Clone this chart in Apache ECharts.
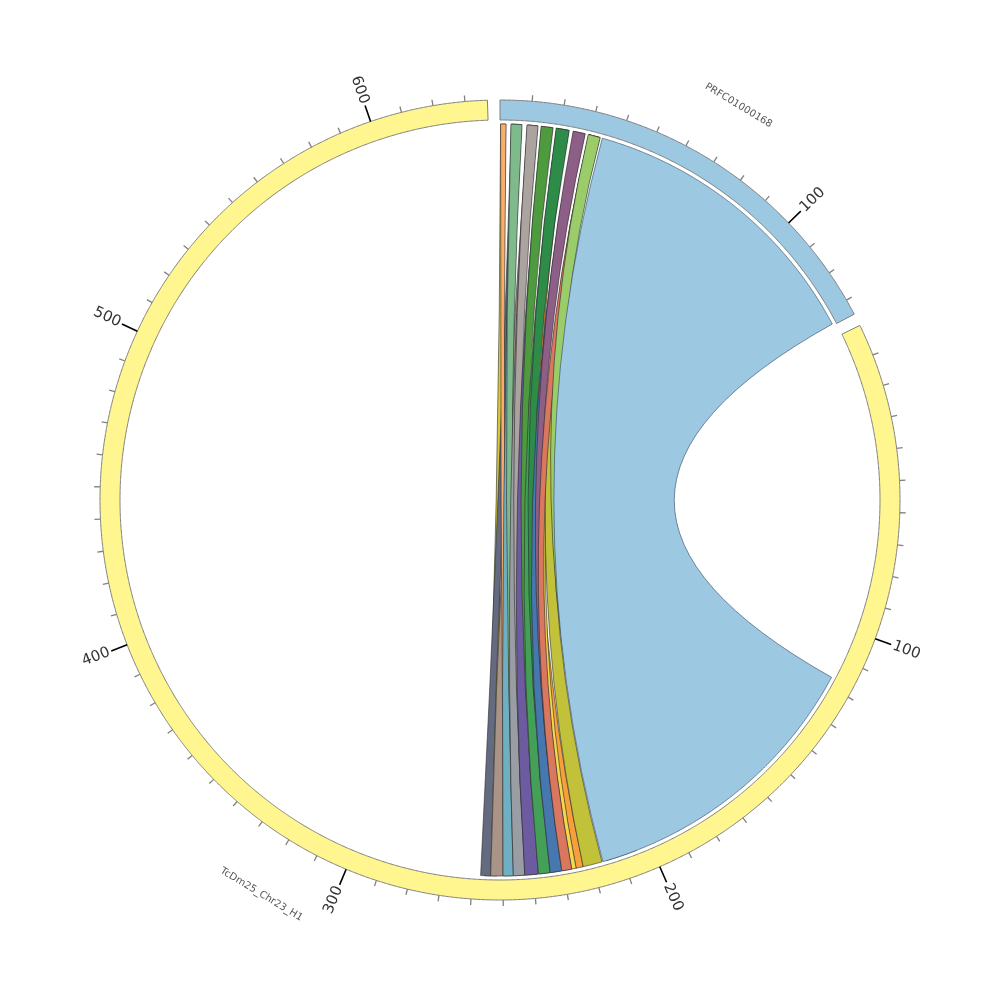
<!DOCTYPE html>
<html><head><meta charset="utf-8">
<script src="https://cdn.jsdelivr.net/npm/echarts@6/dist/echarts.min.js"></script>
<style>html,body{margin:0;padding:0;background:#fff}#c{width:1000px;height:1000px}</style>
</head><body><div id="c"></div>
<script>
// ---- data ----
const sectorNames = ['PRFC01000168', 'TcDm25_Chr23_H1'];
const sectorLengths = [135, 637];
const sectorColors = ['#9DC8E2', '#FFF68F'];
const prfcMajorTicks = [100];
const prfcTickLabels = ['100'];
const chrMajorTicks = [100, 200, 300, 400, 500, 600];
const chrTickLabels = ['100', '200', '300', '400', '500', '600'];
const minorStep = 10;
const gapUnits = 3.9;

// links (in drawing order): source range on PRFC01000168, target range on TcDm25_Chr23_H1
const linkColors = [
  '#D8C83A', '#646A7F', '#A99487', '#F7A03B', '#F2D84A', '#C2C23A',
  '#F9AE6E', '#6EAFC4', '#7FBA8C', '#9A9DA3', '#AAA3A0', '#6C5BA0',
  '#4E9A3E', '#44A058', '#2C8C48', '#4677AE', '#8E5F86', '#D9775F',
  '#9ACD6A', '#9DC8E2'];
const linkSrcStart = [0.2, 3.8, 9.1, 18.8, 29.6, 29.6,   0.2, 3.8, 3.6, 9.1, 8.9, 13.8,   13.6, 18.8, 18.6, 24.5, 24.3, 29.6,   29.4, 34.2];
const linkSrcEnd   = [1.9, 7.1, 12.4, 22.8, 33.3, 33.3,  2.0, 7.1, 7.3, 12.4, 12.6, 17.4,  17.6, 22.8, 23.0, 28.2, 28.4, 33.3,   33.5, 134.5];
const linkTgtStart = [252.0, 254.1, 250.0, 223.3, 225.7, 216.9,   246.8, 246.6, 243.0, 242.8, 238.5, 238.3,   234.6, 234.4, 230.7, 230.5, 227.4, 227.2,   205.0, 117.0];
const linkTgtEnd   = [256.0, 257.4, 254.1, 225.7, 227.2, 223.3,   249.8, 250.0, 246.4, 246.6, 242.6, 242.8,   238.1, 238.3, 234.2, 234.4, 230.3, 230.5,   215.5, 216.6];

// ---- layout helpers ----
const offsets = [0, sectorLengths[0] + gapUnits];
const total = sectorLengths[0] + sectorLengths[1] + 2 * gapUnits;
const R_OUT = 400, R_IN = 380, R_LINK = 376;

function arcPath(api, r, v1, v2, move) {
  let s = '';
  const n = Math.max(2, Math.ceil(Math.abs(v2 - v1) / 0.4));
  for (let i = 0; i <= n; i++) {
    const p = api.coord([r, v1 + (v2 - v1) * i / n]);
    s += (i === 0 ? (move ? 'M' : 'L') : 'L') + p[0].toFixed(2) + ' ' + p[1].toFixed(2) + ' ';
  }
  return s;
}
function thetaOf(api, v) {
  const c = api.coord([0, v]);
  const p = api.coord([100, v]);
  let t = Math.atan2(p[0] - c[0], c[1] - p[1]) * 180 / Math.PI;
  if (t < 0) t += 360;
  return t;
}

const trackData = sectorNames.map((n, i) => ({
  value: [offsets[i], offsets[i] + sectorLengths[i]],
  itemStyle: { color: sectorColors[i] }
}));

const linkData = linkColors.map((col, i) => ({
  value: [linkSrcStart[i] + offsets[0], linkSrcEnd[i] + offsets[0], linkTgtStart[i] + offsets[1], linkTgtEnd[i] + offsets[1]],
  itemStyle: { color: col }
}));

const tickData = [];
[[prfcMajorTicks, 0], [chrMajorTicks, 1]].forEach(([majors, s]) => {
  for (let t = minorStep; t <= sectorLengths[s]; t += minorStep) {
    tickData.push({ value: [t + offsets[s], majors.indexOf(t) >= 0 ? 1 : 0] });
  }
});

const labelData = [];
prfcMajorTicks.forEach((t, i) => labelData.push({ value: [t + offsets[0]], name: prfcTickLabels[i] }));
chrMajorTicks.forEach((t, i) => labelData.push({ value: [t + offsets[1]], name: chrTickLabels[i] }));

const nameData = sectorNames.map((n, i) => ({ value: [offsets[i] + sectorLengths[i] / 2], name: n }));

const chart = echarts.init(document.getElementById('c'), null, { renderer: 'canvas' });
chart.setOption({
  animation: false,
  backgroundColor: '#ffffff',
  polar: { center: ['50%', '50%'], radius: [0, 400] },
  angleAxis: { type: 'value', min: 0, max: total, startAngle: 90, clockwise: true, show: false },
  radiusAxis: { type: 'value', min: 0, max: 400, show: false },
  series: [
    {
      type: 'custom', coordinateSystem: 'polar', silent: true, data: trackData,
      renderItem: function (params, api) {
        const v1 = api.value(0), v2 = api.value(1);
        let d = arcPath(api, R_OUT, v1, v2, true);
        d += arcPath(api, R_IN, v2, v1, false) + 'Z';
        return { type: 'path', shape: { pathData: d },
          style: { fill: api.visual('color'), stroke: '#7f7f7f', lineWidth: 1 } };
      }
    },
    {
      type: 'custom', coordinateSystem: 'polar', silent: true, data: linkData,
      renderItem: function (params, api) {
        const a1 = api.value(0), a2 = api.value(1), b1 = api.value(2), b2 = api.value(3);
        const c = api.coord([0, 0]);
        const pa1 = api.coord([R_LINK, a1]), pa2 = api.coord([R_LINK, a2]);
        const pb1 = api.coord([R_LINK, b1]), pb2 = api.coord([R_LINK, b2]);
        function ctrl(p, q) {
          const mx = (p[0] + q[0]) / 2, my = (p[1] + q[1]) / 2;
          return [c[0] + 0.05 * (mx - c[0]), c[1] + 0.05 * (my - c[1])];
        }
        let d = arcPath(api, R_LINK, a1, a2, true);
        let k = ctrl(pa2, pb1);
        d += 'Q' + k[0].toFixed(2) + ' ' + k[1].toFixed(2) + ' ' + pb1[0].toFixed(2) + ' ' + pb1[1].toFixed(2) + ' ';
        d += arcPath(api, R_LINK, b1, b2, false);
        k = ctrl(pb2, pa1);
        d += 'Q' + k[0].toFixed(2) + ' ' + k[1].toFixed(2) + ' ' + pa1[0].toFixed(2) + ' ' + pa1[1].toFixed(2) + ' Z';
        const big = (linkSrcEnd[params.dataIndex] - linkSrcStart[params.dataIndex]) > 50;
        return { type: 'path', shape: { pathData: d },
          style: { fill: api.visual('color'), stroke: big ? '#2d4760' : '#2a2a2a', lineWidth: 0.6 } };
      }
    },
    {
      type: 'custom', coordinateSystem: 'polar', silent: true, data: tickData,
      renderItem: function (params, api) {
        const v = api.value(0), major = api.value(1) === 1;
        const p1 = api.coord([R_OUT, v]);
        const p2 = api.coord([R_OUT + (major ? 17 : 6), v]);
        return { type: 'line', shape: { x1: p1[0], y1: p1[1], x2: p2[0], y2: p2[1] },
          style: { stroke: major ? '#000000' : '#808080', lineWidth: major ? 1.6 : 1.3 } };
      }
    },
    {
      type: 'custom', coordinateSystem: 'polar', silent: true, data: labelData,
      renderItem: function (params, api) {
        const v = api.value(0);
        const th = thetaOf(api, v);
        const p = api.coord([R_OUT + 19, v]);
        const right = th < 180;
        const rot = (right ? (90 - th) : (270 - th)) * Math.PI / 180;
        const txt = labelData[params.dataIndex].name;
        return { type: 'text', x: p[0], y: p[1], rotation: rot,
          style: { text: txt, x: 0, y: 0, fill: '#333333', font: '15px "DejaVu Sans"',
            align: right ? 'left' : 'right', verticalAlign: 'middle',
            textAlign: right ? 'left' : 'right', textVerticalAlign: 'middle' } };
      }
    },
    {
      type: 'custom', coordinateSystem: 'polar', silent: true, data: nameData,
      renderItem: function (params, api) {
        const v = api.value(0);
        const th = thetaOf(api, v);
        const p = api.coord([461, v]);
        const rot = ((th > 90 && th < 270) ? (180 - th) : (-th)) * Math.PI / 180;
        const txt = nameData[params.dataIndex].name;
        return { type: 'text', x: p[0], y: p[1], rotation: rot,
          style: { text: txt, x: 0, y: 0, fill: '#555555', font: '10px "DejaVu Sans"',
            align: 'center', verticalAlign: 'middle', textAlign: 'center', textVerticalAlign: 'middle' } };
      }
    }
  ]
});
</script></body></html>
